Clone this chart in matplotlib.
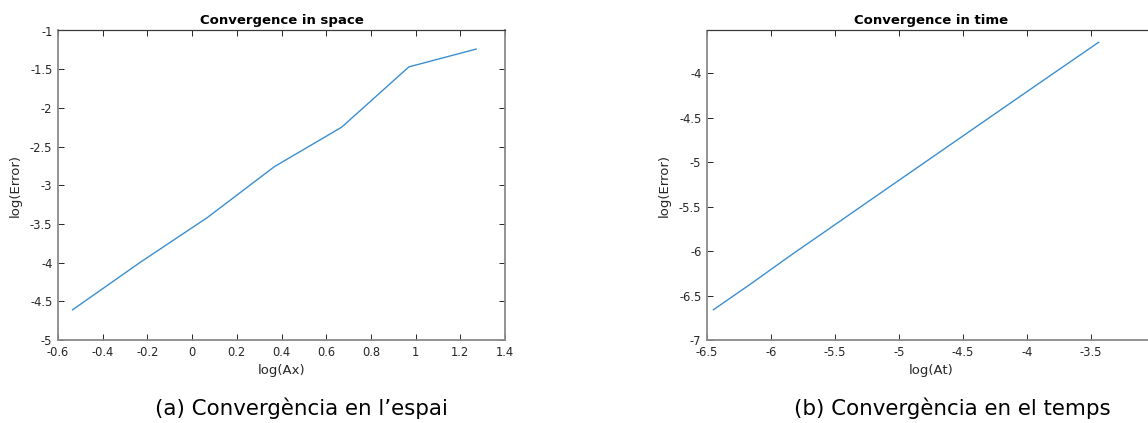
import matplotlib
matplotlib.use("Agg")
import matplotlib.pyplot as plt
from matplotlib.ticker import FuncFormatter

# convergence in space
log_dx = [-0.535, -0.234, 0.067, 0.368, 0.669, 0.970, 1.271]
err_dx = [-4.61, -4.00, -3.42, -2.76, -2.25, -1.47, -1.24]

# convergence in time
log_dt = [-6.450, -6.149, -5.848, -5.547, -5.246, -4.945, -4.644, -4.343, -4.042, -3.741, -3.440]
err_dt = [-6.66, -6.36, -6.05, -5.75, -5.449, -5.149, -4.849, -4.549, -4.249, -3.950, -3.652]

titles = ["Convergence in space", "Convergence in time"]
xlabels = ["log(Ax)", "log(At)"]
captions = ["(a) Convergència en l\u2019espai", "(b) Convergència en el temps"]

plt.rcParams['axes.unicode_minus'] = False
plt.rcParams['font.family'] = ['DejaVu Sans']

W, H = 1148, 423
fig = plt.figure(figsize=(W / 100, H / 100), dpi=100)

fmt = FuncFormatter(lambda v, p: '%g' % round(v, 6))


def style_axes(ax):
    ax.tick_params(direction='in', length=4, width=0.7, top=True, right=True,
                   labelsize=8.3, colors='#262626', pad=4)
    for side in ['left', 'bottom', 'right']:
        ax.spines[side].set_color('#8a8a8a')
        ax.spines[side].set_linewidth(1.3)
    ax.spines['top'].set_color('#3a3a3a')
    ax.spines['top'].set_linewidth(0.9)
    ax.xaxis.set_major_formatter(fmt)
    ax.yaxis.set_major_formatter(fmt)


bottom = (H - 340) / H
height = (340 - 30.5) / H

ax1 = fig.add_axes([58 / W, bottom, 447 / W, height])
ax1.plot(log_dx, err_dx, color='#3b8fd1', lw=1.0)
ax1.set_xlim(-0.6, 1.4)
ax1.set_ylim(-5, -1)
ax1.set_xticks([-0.6, -0.4, -0.2, 0, 0.2, 0.4, 0.6, 0.8, 1, 1.2, 1.4])
ax1.set_yticks([-5, -4.5, -4, -3.5, -3, -2.5, -2, -1.5, -1])
style_axes(ax1)

ax2 = fig.add_axes([707 / W, bottom, 448 / W, height])
ax2.plot(log_dt, err_dt, color='#3b8fd1', lw=1.0)
ax2.set_xlim(-6.5, -3.0)
ax2.set_ylim(-7, -3.52)
ax2.set_xticks([-6.5, -6, -5.5, -5, -4.5, -4, -3.5])
ax2.set_yticks([-7, -6.5, -6, -5.5, -5, -4.5, -4])
style_axes(ax2)

for ax, t, xl in zip([ax1, ax2], titles, xlabels):
    ax.set_title(t, fontsize=9.5, fontweight='bold', color='black', pad=5)
    ax.set_xlabel(xl, fontsize=9.5, color='#262626', labelpad=4)
    ax.set_ylabel('log(Error)', fontsize=9.5, color='#262626', labelpad=6)

fig.text(301 / W, 1 - 408 / H, captions[0], ha='center', va='center',
         fontsize=15.4)
fig.text(952 / W, 1 - 408 / H, captions[1], ha='center', va='center',
         fontsize=15.4)

fig.savefig('out.png', dpi=100)
